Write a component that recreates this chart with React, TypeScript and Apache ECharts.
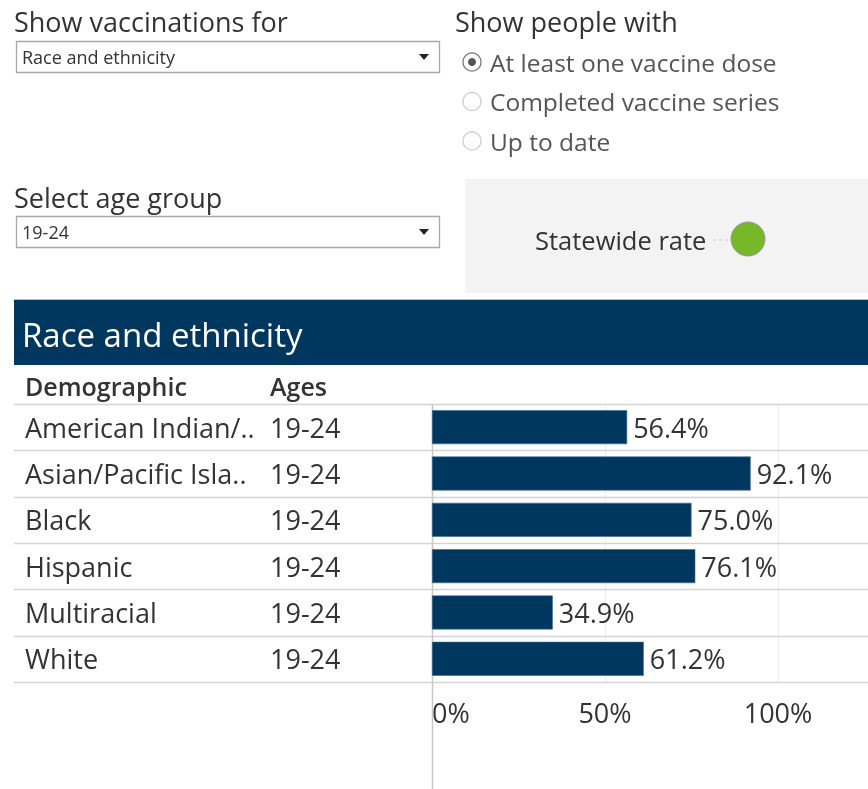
import React, { useEffect, useRef } from "react";
import * as echarts from "echarts";

const demographics = ["American Indian/..", "Asian/Pacific Isla..", "Black", "Hispanic", "Multiracial", "White"];
const ages = ["19-24", "19-24", "19-24", "19-24", "19-24", "19-24"];
const rates = [56.4, 92.1, 75.0, 76.1, 34.9, 61.2];
const axisTicks = [0, 50, 100];
const radioOptions = ["At least one vaccine dose", "Completed vaccine series", "Up to date"];

const FONT = "'Open Sans', 'Noto Sans', sans-serif";
const NAVY = "#00375f";
const TXT = "#333333";

export default function App() {
  const ref = useRef<HTMLDivElement>(null);
  useEffect(() => {
    document.body.style.margin = "0";
    const chart = echarts.init(ref.current!, null, { renderer: "svg" });
    const gridLeft = 432, gridTop = 404, rowH = 46.33, gridRight = 778;
    const gridH = rowH * demographics.length;
    const sepLines: any[] = [];
    for (let i = 0; i <= demographics.length; i++) {
      const y = Math.round(gridTop + i * rowH) + 0.5;
      sepLines.push({ type: "line", shape: { x1: 14, y1: y, x2: 868, y2: y }, style: { stroke: "#d4d4d4", lineWidth: 1.5 }, z: 1 });
    }
    const radios: any[] = [];
    radioOptions.forEach((t, i) => {
      const cy = 62 + i * 39.5;
      radios.push({ type: "circle", shape: { cx: 472, cy, r: 9 }, style: { fill: "#fff", stroke: i === 0 ? "#777" : "#ccc", lineWidth: 1.3 } });
      if (i === 0) radios.push({ type: "circle", shape: { cx: 472, cy, r: 4 }, style: { fill: "#555" } });
      radios.push({ type: "text", x: 490, y: cy, style: { text: t, font: `24.5px ${FONT}`, fill: "#555", verticalAlign: "middle" } });
    });
    const dropdown = (y: number, text: string) => [
      { type: "rect", shape: { x: 16.5, y: y + 0.5, width: 423, height: 31 }, style: { fill: "#fff", stroke: "#a8a8a8", lineWidth: 1.3 } },
      { type: "text", x: 22, y: y + 16, style: { text, font: `18px ${FONT}`, fill: TXT, verticalAlign: "middle" } },
      { type: "polygon", shape: { points: [[419, y + 13], [429, y + 13], [424, y + 19]] }, style: { fill: "#222" } },
    ];
    chart.setOption({
      animation: false,
      grid: { left: gridLeft, top: gridTop, width: gridRight - gridLeft, height: gridH },
      xAxis: {
        type: "value", min: 0, max: 100, interval: 50,
        axisLine: { show: false }, axisTick: { show: false },
        splitLine: { show: true, lineStyle: { color: "#ececec", width: 1 } },
        axisLabel: {
          formatter: (v: number) => (axisTicks.includes(v) ? v + "%" : ""),
          color: TXT, fontSize: 27, fontFamily: FONT, margin: 17,
          alignMinLabel: "left",
        },
      },
      yAxis: {
        type: "category", inverse: true, data: demographics.map((d, i) => d + "|" + ages[i]),
        axisLine: { show: false }, axisTick: { show: false }, splitLine: { show: false },
        axisLabel: {
          align: "left", margin: gridLeft - 25,
          formatter: (v: string) => { const [a, b] = v.split("|"); return `{a|${a}}{b|${b}}`; },
          rich: {
            a: { width: 245, fontSize: 27, fontFamily: FONT, color: TXT },
            b: { fontSize: 27, fontFamily: FONT, color: TXT },
          },
        },
      },
      series: [{
        type: "bar", data: rates, barWidth: 34,
        itemStyle: { color: NAVY, borderColor: "#3d6a90", borderWidth: 0.6 },
        label: { show: true, position: "right", distance: 6, formatter: (p: any) => p.value.toFixed(1) + "%", color: TXT, fontSize: 27, fontFamily: FONT },
        z: 3,
      }],
      graphic: [
        { type: "text", x: 14, y: 21, style: { text: "Show vaccinations for", font: `27px ${FONT}`, fill: TXT, verticalAlign: "middle" } },
        ...dropdown(41, "Race and ethnicity"),
        { type: "text", x: 14, y: 197, style: { text: "Select age group", font: `27px ${FONT}`, fill: TXT, verticalAlign: "middle" } },
        ...dropdown(216, "19-24"),
        { type: "text", x: 455, y: 21, style: { text: "Show people with", font: `27px ${FONT}`, fill: TXT, verticalAlign: "middle" } },
        ...radios,
        { type: "rect", shape: { x: 465, y: 179, width: 403, height: 114 }, style: { fill: "#f3f3f3" } },
        { type: "text", x: 535, y: 240, style: { text: "Statewide rate", font: `25.5px ${FONT}`, fill: TXT, verticalAlign: "middle" } },
        { type: "line", shape: { x1: 713, y1: 240, x2: 728, y2: 240 }, style: { stroke: "#ccc", lineWidth: 1, lineDash: [3, 3] } },
        { type: "circle", shape: { cx: 748, cy: 239, r: 17 }, style: { fill: "#77b82a", stroke: "#999", lineWidth: 1 } },
        { type: "line", shape: { x1: 14, y1: 299.5, x2: 868, y2: 299.5 }, style: { stroke: "#bbb", lineWidth: 1 } },
        { type: "rect", shape: { x: 14, y: 300, width: 854, height: 65 }, style: { fill: NAVY } },
        { type: "text", x: 22, y: 334, style: { text: "Race and ethnicity", font: `33px ${FONT}`, fill: "#fff", verticalAlign: "middle" } },
        { type: "text", x: 25, y: 386, style: { text: "Demographic", font: `600 25px ${FONT}`, fill: TXT, verticalAlign: "middle" } },
        { type: "text", x: 270, y: 386, style: { text: "Ages", font: `600 25px ${FONT}`, fill: TXT, verticalAlign: "middle" } },
        ...sepLines,
        { type: "line", shape: { x1: 432.5, y1: gridTop, x2: 432.5, y2: 789 }, style: { stroke: "#c8c8c8", lineWidth: 1.5 }, z: 1 },
      ],
    });
    return () => chart.dispose();
  }, []);
  return <div ref={ref} style={{ position: "fixed", left: 0, top: 0, width: 868, height: 789 }} />;
}
